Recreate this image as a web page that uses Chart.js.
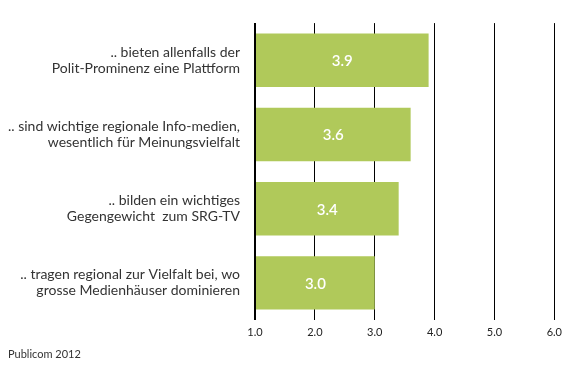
<!DOCTYPE html>
<html>
<head>
<meta charset="utf-8">
<script src="https://cdn.jsdelivr.net/npm/chart.js@4"></script>
<style>
html,body{margin:0;padding:0;background:#fff;}
#wrap{width:568px;height:378px;position:relative;}
</style>
</head>
<body>
<div id="wrap"><canvas id="c" width="568" height="378"></canvas></div>
<script>
const categories = [
  [".. bieten allenfalls der", "Polit-Prominenz eine Plattform"],
  [".. sind wichtige regionale Info-medien,", "wesentlich für Meinungsvielfalt"],
  [".. bilden ein wichtiges", "Gegengewicht  zum SRG-TV"],
  [".. tragen regional zur Vielfalt bei, wo", "grosse Medienhäuser dominieren"]
];
const values = [3.9, 3.6, 3.4, 3.0];
const sourceNote = "Publicom 2012";

const FONT = "Lato, 'Open Sans', sans-serif";

const valueLabels = {
  id: 'valueLabels',
  afterDatasetsDraw(chart) {
    const ctx = chart.ctx;
    const meta = chart.getDatasetMeta(0);
    const left = chart.chartArea.left;
    ctx.save();
    ctx.fillStyle = '#ffffff';
    ctx.font = '600 15px ' + FONT;
    ctx.textAlign = 'center';
    ctx.textBaseline = 'middle';
    meta.data.forEach((bar, i) => {
      const cx = (bar.x + Math.max(bar.base, left)) / 2;
      ctx.fillText(values[i].toFixed(1), cx, bar.y + 1);
    });
    ctx.restore();
  },
  afterDraw(chart) {
    const ctx = chart.ctx;
    ctx.save();
    ctx.fillStyle = '#333333';
    ctx.font = '11px ' + FONT;
    ctx.textAlign = 'left';
    ctx.textBaseline = 'middle';
    ctx.fillText(sourceNote, 8, 354);
    ctx.restore();
  }
};

new Chart(document.getElementById('c'), {
  type: 'bar',
  data: {
    labels: categories,
    datasets: [{
      data: values,
      base: 1,
      backgroundColor: '#b0c95a',
      borderWidth: 0,
      categoryPercentage: 1,
      barPercentage: 0.72
    }]
  },
  options: {
    indexAxis: 'y',
    responsive: false,
    animation: false,
    devicePixelRatio: 1,
    layout: { padding: { left: 0, right: 12, top: 20, bottom: 0 } },
    plugins: { legend: { display: false }, tooltip: { enabled: false } },
    scales: {
      x: {
        min: 1, max: 6,
        ticks: {
          stepSize: 1,
          color: '#222',
          padding: 6,
          font: { family: FONT, size: 11 },
          callback: v => Number(v).toFixed(1)
        },
        grid: {
          color: '#000',
          lineWidth: ctx => ctx.index === 0 ? 2 : 1,
          drawTicks: false
        },
        border: { display: false },
        afterFit: s => { s.height = 58; }
      },
      y: {
        ticks: {
          color: '#333',
          padding: 7,
          font: { family: FONT, size: 14, lineHeight: 1.15 }
        },
        grid: { display: false },
        border: { display: false },
        afterFit: s => { s.width = 255; }
      }
    }
  },
  plugins: [valueLabels]
});
</script>
</body>
</html>
